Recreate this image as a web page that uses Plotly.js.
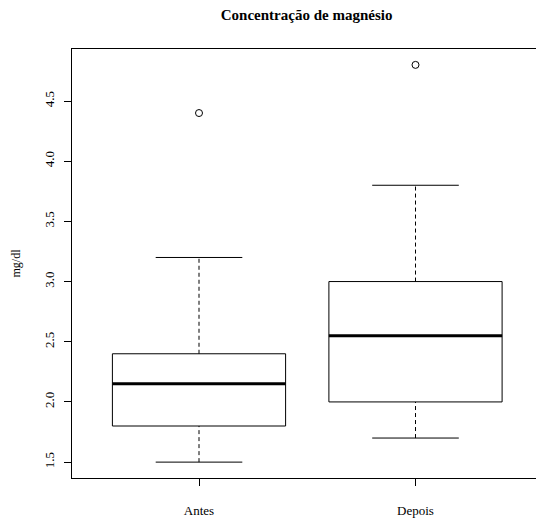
<!DOCTYPE html>
<html>
<head>
<meta charset="utf-8">
<script src="https://cdn.plot.ly/plotly-3.0.1.min.js"></script>
<style>html,body{margin:0;padding:0;background:#fff;}#chart{width:536px;height:522px;}</style>
</head>
<body>
<div id="chart"></div>
<script>
// Data
const categories = ["Antes", "Depois"];
const lowerWhisker = [1.5, 1.7];
const q1 = [1.8, 2.0];
const median = [2.15, 2.55];
const q3 = [2.4, 3.0];
const upperWhisker = [3.2, 3.8];
const outliers = [[4.4], [4.8]];

const boxHalf = 0.4, capHalf = 0.2;
const font = "Liberation Serif, Times New Roman, serif";
const traces = [];
categories.forEach((c, k) => {
  const i = k + 1;
  // whiskers (dashed)
  traces.push({type: "scatter", mode: "lines", hoverinfo: "skip",
    x: [i, i, null, i, i], y: [lowerWhisker[k], q1[k], null, q3[k], upperWhisker[k]],
    line: {color: "#000", width: 1, dash: "4px,3px"}});
  // caps
  traces.push({type: "scatter", mode: "lines", hoverinfo: "skip",
    x: [i - capHalf, i + capHalf, null, i - capHalf, i + capHalf],
    y: [lowerWhisker[k], lowerWhisker[k], null, upperWhisker[k], upperWhisker[k]],
    line: {color: "#000", width: 1}});
  // box
  traces.push({type: "scatter", mode: "lines", hoverinfo: "skip",
    x: [i - boxHalf, i + boxHalf, i + boxHalf, i - boxHalf, i - boxHalf],
    y: [q1[k], q1[k], q3[k], q3[k], q1[k]],
    line: {color: "#000", width: 1}});
  // median
  traces.push({type: "scatter", mode: "lines", hoverinfo: "skip",
    x: [i - boxHalf, i + boxHalf], y: [median[k], median[k]],
    line: {color: "#000", width: 3}});
  // outliers
  traces.push({type: "scatter", mode: "markers", hoverinfo: "skip",
    x: outliers[k].map(() => i), y: outliers[k],
    marker: {symbol: "circle-open", size: 7, color: "#000", line: {width: 1, color: "#000"}}});
});

const layout = {
  width: 536, height: 522,
  margin: {l: 72, r: 0, t: 49, b: 44},
  paper_bgcolor: "#fff", plot_bgcolor: "#fff",
  showlegend: false,
  font: {family: font, color: "#000", size: 13},
  title: {text: "<b>Concentração de magnésio</b>", font: {family: font, size: 15, color: "#000"},
    x: 0.572, xref: "container", xanchor: "center", y: 1 - 15/522, yref: "container", yanchor: "middle"},
  xaxis: {range: [0.4134, 2.5566], tickvals: [1, 2], ticktext: categories,
    showgrid: false, zeroline: false, showline: true, mirror: true, linecolor: "#000", linewidth: 1,
    ticks: "outside", ticklen: 7, tickcolor: "#000", tickwidth: 1, ticklabelstandoff: 13,
    tickfont: {family: font, size: 13, color: "#000"}},
  yaxis: {range: [1.368, 4.932], tickvals: [1.5, 2.0, 2.5, 3.0, 3.5, 4.0, 4.5],
    ticktext: ["1.5", "2.0", "2.5", "3.0", "3.5", "4.0", "4.5"], tickangle: -90,
    showgrid: false, zeroline: false, showline: true, mirror: false, linecolor: "#000", linewidth: 1,
    ticks: "outside", ticklen: 7, tickcolor: "#000", tickwidth: 1, ticklabelstandoff: 5,
    tickfont: {family: font, size: 13, color: "#000"},
    title: {text: "mg/dl", font: {family: font, size: 12, color: "#000"}, standoff: 18}}
};

Plotly.newPlot("chart", traces, layout, {displayModeBar: false, staticPlot: true});
</script>
</body>
</html>
